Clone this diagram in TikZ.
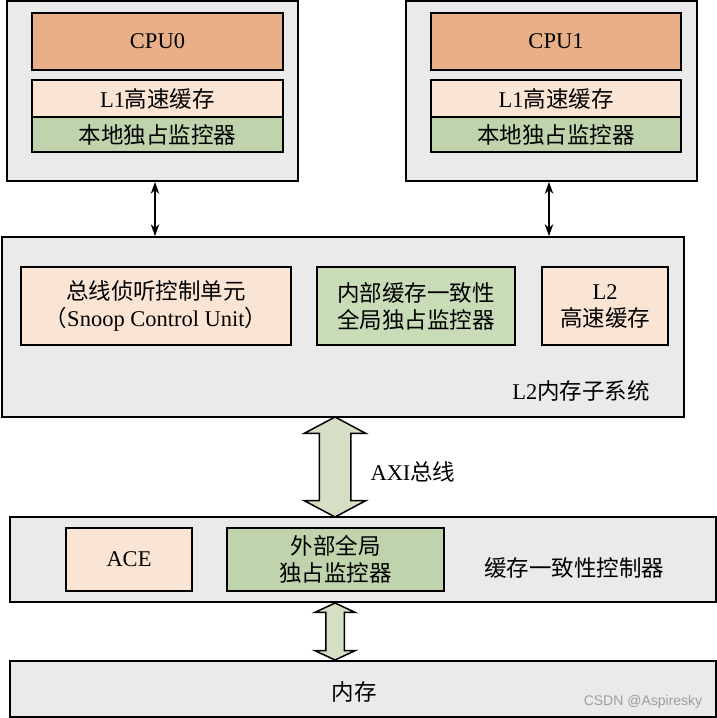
\documentclass[tikz,border=0pt]{standalone}
\usepackage{fontspec}
\setmainfont{Liberation Serif}
\newfontfamily\cjk{Noto Sans CJK SC}
\newfontfamily\wmfont{Liberation Sans}
\usetikzlibrary{arrows.meta,shapes.arrows}
\definecolor{outerfill}{HTML}{EAEAEA}
\definecolor{cpufill}{HTML}{E9AF88}
\definecolor{peachfill}{HTML}{FAE4D4}
\definecolor{greenfill}{HTML}{BFD4AC}
\definecolor{lgreenfill}{HTML}{C9DCB8}
\definecolor{arrowfill}{HTML}{D4DFC6}
\begin{document}
\begin{tikzpicture}[x=1pt,y=-1pt,
  every node/.style={font=\fontsize{22.5}{27}\selectfont, text=black},
  boxbase/.style={draw=black, line width=1.7pt, inner sep=0pt, align=center},
  outerbox/.style={boxbase, fill=outerfill},
  cpubox/.style={boxbase, fill=cpufill},
  peachbox/.style={boxbase, fill=peachfill},
  greenbox/.style={boxbase, fill=greenfill},
  lgreenbox/.style={boxbase, fill=lgreenfill},
  thinlink/.style={line width=1.6pt, {Stealth[length=12pt,width=8.5pt]}-{Stealth[length=12pt,width=8.5pt]}},
  fatarrow/.style={draw=black, line width=1.5pt, fill=arrowfill, shape=double arrow, rotate=90, inner xsep=0pt, double arrow head indent=0pt},
  plainlabel/.style={inner sep=0pt}
]
\useasboundingbox (0,0) rectangle (717,718);

% CPU0 cluster
\node[outerbox, minimum width=291, minimum height=180] (c0) at (152.5,91) {};
\node[cpubox, minimum width=251, minimum height=57] (cpu0) at (157.5,41.5) {CPU0};
\node[peachbox, minimum width=251, minimum height=37] (l1a) at (157.5,98.5) {L1{\cjk 高速缓存}};
\node[greenbox, minimum width=251, minimum height=35] (moa) at (157.5,134.5) {\cjk 本地独占监控器};

% CPU1 cluster
\node[outerbox, minimum width=291, minimum height=180] (c1) at (551.5,91) {};
\node[cpubox, minimum width=250, minimum height=57] (cpu1) at (556,41.5) {CPU1};
\node[peachbox, minimum width=250, minimum height=37] (l1b) at (556,98.5) {L1{\cjk 高速缓存}};
\node[greenbox, minimum width=250, minimum height=35] (mob) at (556,134.5) {\cjk 本地独占监控器};

% L2 subsystem
\node[outerbox, minimum width=682, minimum height=180] (l2) at (343,327) {};
\node[peachbox, minimum width=270, minimum height=78] (scu) at (156,306)
  {{\cjk 总线侦听控制单元}\\{\cjk （}Snoop Control Unit{\cjk ）}};
\node[lgreenbox, minimum width=198, minimum height=78] (igm) at (416,306)
  {{\cjk 内部缓存一致性}\\{\cjk 全局独占监控器}};
\node[peachbox, minimum width=126, minimum height=78] (l2c) at (605,306)
  {L2\\{\cjk 高速缓存}};
\node[plainlabel] (l2lab) at (581,391) {L2{\cjk 内存子系统}};

% links CPU <-> L2
\draw[thinlink] ([xshift=2.5pt]c0.south) -- ([xshift=2.5pt]c0.south |- l2.north);
\draw[thinlink] ([xshift=-2.5pt]c1.south) -- ([xshift=-2.5pt]c1.south |- l2.north);

% cache coherency controller
\node[outerbox, minimum width=706, minimum height=85] (ccc) at (363,559.5) {};
\node[peachbox, minimum width=126, minimum height=63] (ace) at (129,559.5) {ACE};
\node[greenbox, minimum width=217, minimum height=63] (egm) at (335.5,559.5)
  {{\cjk 外部全局}\\{\cjk 独占监控器}};
\node[plainlabel] (ccclab) at (574,568) {\cjk 缓存一致性控制器};

% memory
\node[outerbox, minimum width=706, minimum height=56] (mem) at (363,689) {};
\node[plainlabel] (memlab) at (354,692) {\cjk 内存};
\node[plainlabel, font=\wmfont\fontsize{14}{16}\selectfont, text=black!38] (wm) at (643,702) {CSDN @Aspiresky};

% fat arrows
\node[fatarrow, minimum height=100, minimum width=60, inner ysep=15pt,
  double arrow head extend=15pt, double arrow tip angle=124] (axi) at (335,467) {};
\node[plainlabel] (axilab) at (413,472) {AXI{\cjk 总线}};
\node[fatarrow, minimum height=57, minimum width=39, inner ysep=8.5pt,
  double arrow head extend=11pt, double arrow tip angle=130] (memarr) at (335,631.5) {};
\end{tikzpicture}
\end{document}
